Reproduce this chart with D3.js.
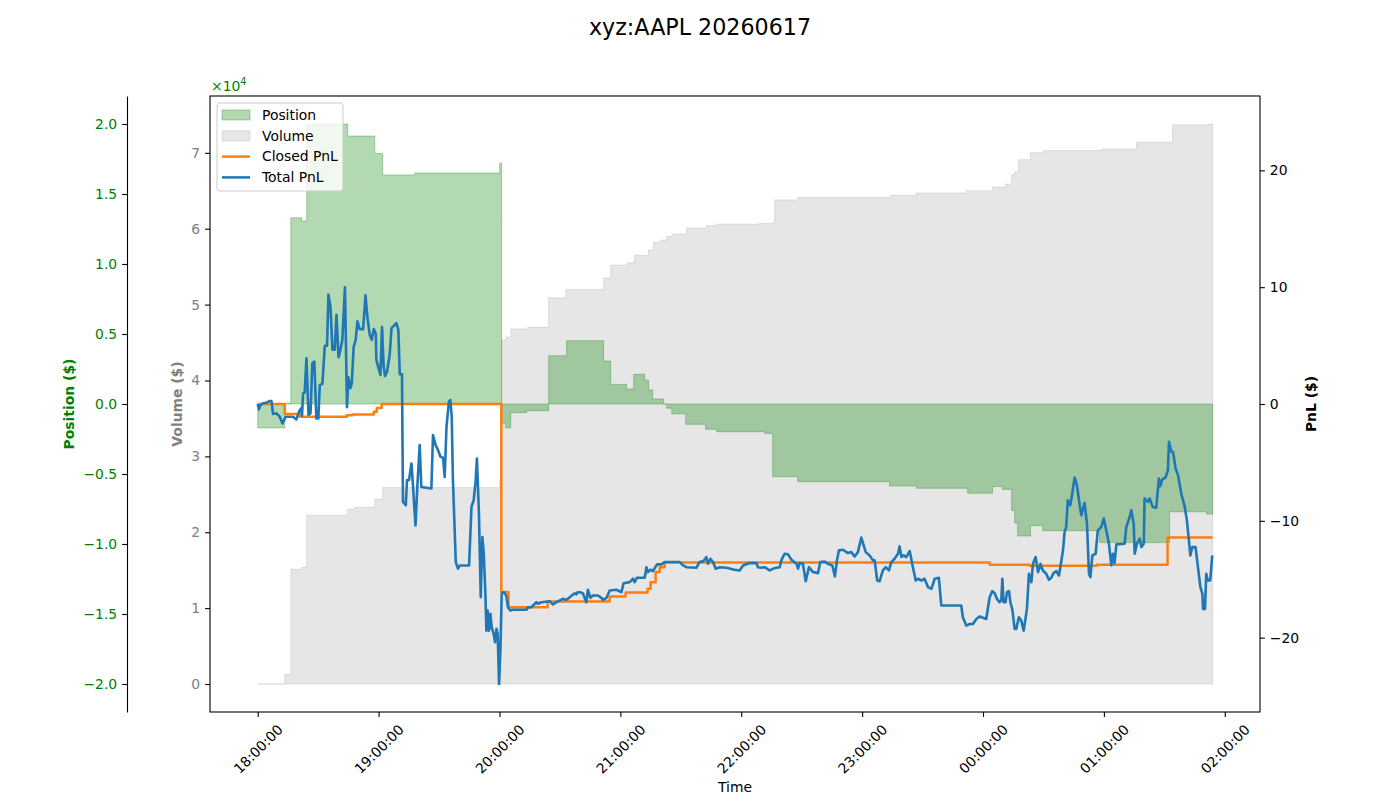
<!DOCTYPE html>
<html>
<head>
<meta charset="utf-8">
<script src="https://cdn.jsdelivr.net/npm/d3@7"></script>
<style>
  body { margin: 0; background: #fff; }
  svg { font-family: "DejaVu Sans", sans-serif; }
</style>
</head>
<body>
<svg id="chart" width="1400" height="800"></svg>
<script>
// session start, all times below are minutes after it
const sessionStart = new Date(2026, 5, 17, 18, 0, 0);
const chartTitle = "xyz:AAPL 20260617";
const legendLabels = ["Position", "Volume", "Closed PnL", "Total PnL"];

// Volume ($), cumulative
const volume = [[0, 0], [13.4, 1280], [16.4, 15120], [21.8, 15380], [24.3, 22240], [44.7, 23030], [48.1, 23300],
  [58.1, 24350], [62.0, 25880], [120.1, 26800], [121.1, 45350], [123.1, 45740], [125.6, 46800], [134.0, 47000],
  [144.4, 50900], [152.9, 52000], [171.7, 53500], [175.2, 55200], [183.6, 55500], [187.1, 56500], [194.0, 57200],
  [196.5, 58200], [200.0, 58500], [203.0, 59000], [206.0, 59300], [212.9, 60100], [222.8, 60400], [227.8, 60600],
  [249.1, 60700], [255.6, 60800], [256.6, 63800], [268.0, 64100], [314.1, 64400], [327.0, 64700], [351.9, 65000],
  [364.8, 65500], [371.2, 65900], [374.2, 67100], [375.7, 67500], [377.7, 69100], [383.6, 70000], [390.1, 70300],
  [418.9, 70500], [436.2, 71400], [454.1, 73700], [472.0, 73800], [474.0, 73800]];

// Position ($)
const position = [[0, -1710], [13.4, 50], [16.4, 13300], [21.8, 13070], [24.3, 20000], [44.7, 19140], [58.1, 17900],
  [62.0, 16360], [77.9, 16500], [120.1, 17200], [121.1, -1360], [123.1, -1700], [125.6, -620], [133.5, -480],
  [144.4, 3450], [153.3, 4520], [171.7, 3070], [175.2, 1400], [183.1, 1070], [186.6, 2120], [192.1, 1700],
  [194.0, 1000], [196.0, 360], [201.5, 0], [203.0, -300], [205.5, -700], [212.4, -1450], [222.3, -1810],
  [227.8, -1980], [251.6, -2100], [255.6, -5190], [268.0, -5550], [313.6, -5860], [327.0, -6020], [352.4, -6380],
  [364.8, -5900], [369.7, -6100], [374.2, -7600], [375.7, -8500], [377.2, -9430], [383.6, -8690], [389.6, -9050],
  [417.9, -9900], [452.6, -7700], [471.0, -7860], [474.0, -7860]];

// Closed PnL ($)
const closedPnl = [[0, 0], [13.4, -0.86], [20.8, -1.09], [44.2, -0.97], [47.1, -0.89], [57.6, -0.66], [59.1, -0.35],
  [61.5, 0], [120.9, -16.1], [124.5, -17.4], [143.9, -16.9], [174.7, -16.48], [182.6, -16.14], [193.5, -15.82],
  [195.0, -15.25], [197.5, -14.39], [199.5, -13.97], [202.0, -13.57], [363.3, -13.76], [383.1, -13.85],
  [416.4, -13.76], [451.6, -11.42], [474.0, -11.42]];

// Total PnL ($)
const totalPnl = [[0, 0], [0.6, -0.46], [1.3, -0.09], [2.6, 0.06], [4.3, 0.11], [6.0, 0.26], [6.8, 0.26], [7.6, -0.86],
  [9.3, -0.8], [10.9, -1.09], [12.3, -1.66], [13.9, -1.09], [17.5, -1.09], [19.2, -1.32], [20.5, -0.66], [21.5, -0.37],
  [22.0, -1.0], [22.5, 0.91], [23.3, 0.97], [24.2, 3.92], [25.2, -0.94], [26.2, -0.8], [27.1, 3.49], [28.1, 3.63],
  [29.1, -1.23], [30.1, -1.23], [30.8, 1.63], [32.1, 1.72], [33.3, 4.98], [34.4, 5.0], [35.1, 9.36], [36.1, 8.35],
  [37.1, 4.64], [38.2, 4.64], [39.1, 7.64], [40.1, 4.0], [40.7, 4.35], [42.0, 5.49], [43.3, 10.0], [44.3, -0.28],
  [45.0, 2.29], [46.0, 1.35], [46.7, 1.78], [47.6, 4.87], [48.6, 5.49], [49.5, 7.07], [50.6, 6.41], [52.3, 6.41],
  [53.5, 9.3], [54.4, 7.5], [55.6, 5.92], [56.6, 5.49], [57.6, 6.41], [58.6, 6.01], [58.9, 3.78], [60.2, 2.92],
  [60.9, 2.49], [61.7, 6.58], [62.5, 3.2], [63.2, 2.4], [64.2, 2.77], [65.5, 4.21], [66.4, 6.5], [68.0, 6.78],
  [68.8, 6.93], [69.8, 6.35], [70.5, 2.55], [71.6, 2.55],
  [72.1, -8.38], [73.5, -8.67], [74.1, -6.52], [75.1, -6.52], [76.3, -5.09], [77.1, -7.1], [78.3, -10.39],
  [79.3, -6.81], [80.4, -3.52], [81.2, -7.1], [86.2, -7.24], [87.0, -2.66], [88.3, -3.52], [89.5, -3.95],
  [90.7, -4.52], [92.0, -4.6], [92.8, -6.24], [93.7, -1.95], [94.9, 0.2], [95.6, 0.34], [96.3, -1.09], [96.9, -6.52],
  [98.3, -13.53], [99.4, -14.1], [100.3, -13.82], [104.9, -13.82], [106.1, -8.81], [107.2, -8.24], [108.2, -6.52],
  [108.8, -4.66], [109.8, -9.38], [110.7, -16.54], [111.5, -11.39], [112.2, -12.82], [113.0, -16.25], [113.5, -19.4],
  [114.1, -17.68], [114.8, -19.4], [115.5, -17.97], [116.1, -19.1], [117.1, -19.68], [117.8, -20.4], [118.5, -19.25],
  [119.1, -19.68], [119.8, -23.97], [120.5, -20.83], [121.1, -16.25], [122.1, -16.11], [123.4, -16.39],
  [124.2, -17.4], [125.4, -17.68], [126.7, -17.62], [133.4, -17.62], [134.2, -17.4], [135.8, -17.4], [138.3, -16.97],
  [139.1, -17.1], [140.8, -16.97], [144.9, -16.88], [146.6, -17.17], [148.2, -16.97], [151.5, -16.68],
  [153.2, -16.77], [157.3, -16.2], [158.2, -16.3], [158.8, -16.11],
  [159.8, -16.11], [161.4, -16.2], [163.1, -16.97], [163.9, -15.9], [165.1, -16.6], [166.4, -16.39], [168.9, -16.39],
  [170.6, -16.6], [171.4, -16.77], [173.1, -16.6], [174.7, -15.97], [178.0, -15.9], [180.5, -16.11], [181.6, -15.34],
  [184.6, -15.25], [186.3, -14.96], [187.1, -15.25], [188.2, -14.88], [192.1, -14.88], [192.9, -13.97],
  [193.7, -14.39], [194.9, -14.19], [196.2, -14.3], [198.2, -13.73], [200.4, -13.73], [202.0, -13.53],
  [209.5, -13.53], [211.1, -13.82], [212.8, -13.97], [217.7, -14.02], [219.3, -13.53], [221.3, -13.45],
  [222.7, -13.1], [223.5, -13.68], [224.7, -13.25], [226.0, -13.53], [227.3, -14.1], [229.3, -13.97],
  [232.6, -14.02], [236.7, -14.19], [239.2, -14.25], [240.9, -13.82], [244.2, -13.62], [247.5, -13.62],
  [248.3, -13.97], [250.0, -14.02], [251.6, -13.97], [254.1, -14.25], [255.7, -14.11], [257.4, -14.02],
  [259.1, -13.97], [259.9, -13.39], [261.5, -12.82], [263.2, -12.87], [264.9, -13.33], [267.4, -13.68],
  [268.2, -14.1], [269.0, -13.62], [270.6, -13.68], [272.0, -15.17], [273.6, -13.97], [275.6, -14.39],
  [278.1, -14.48], [279.2, -13.53], [281.4, -13.48], [283.0, -13.68], [285.2, -13.82], [286.5, -14.76],
  [287.5, -13.39], [288.5, -12.53], [290.5, -12.48], [293.0, -12.76], [294.6, -12.68], [296.3, -13.05],
  [297.9, -12.68], [299.6, -11.44], [301.8, -12.68], [303.7, -12.96], [305.4, -13.39], [306.2, -13.39],
  [307.5, -15.11], [308.7, -15.17], [310.3, -14.25], [311.7, -13.97], [313.3, -14.25], [314.5, -13.53],
  [316.1, -13.25], [317.8, -12.82], [318.6, -12.19], [319.5, -13.1], [320.6, -12.96], [321.9, -13.1],
  [323.6, -12.59], [325.2, -13.97], [326.6, -15.11], [327.7, -14.96], [329.4, -15.11], [331.0, -14.96],
  [332.7, -15.68], [334.4, -15.82], [336.0, -14.96], [338.1, -14.88], [339.3, -17.25], [349.2, -17.25],
  [350.0, -18.26], [351.7, -18.97], [353.4, -18.83], [355.0, -18.83], [356.7, -18.4], [358.3, -18.2],
  [360.0, -18.3], [361.6, -18.4], [363.3, -16.54],
  [364.6, -16.02], [365.8, -16.2], [366.9, -16.68], [368.2, -16.97], [369.1, -16.8], [369.6, -14.96],
  [370.2, -16.97], [371.2, -16.97], [371.9, -16.11], [372.9, -16.02], [373.6, -16.97], [374.6, -17.62],
  [375.7, -19.25], [376.5, -19.25], [377.8, -18.26], [379.0, -18.54], [380.2, -19.4], [381.8, -17.54],
  [382.8, -14.53], [384.0, -15.25], [384.8, -13.68], [386.1, -13.1], [387.3, -14.39], [388.5, -13.68],
  [389.7, -14.25], [391.4, -14.53], [392.7, -15.05], [393.9, -14.88], [395.0, -14.48], [396.4, -14.31],
  [397.7, -14.68], [398.8, -13.53], [399.7, -12.53], [400.5, -10.96], [401.3, -10.53], [402.1, -8.24],
  [403.3, -8.67], [404.3, -7.67], [405.5, -6.29], [406.6, -6.95], [408.0, -8.67], [408.8, -9.53], [410.4, -8.47],
  [411.6, -10.24], [412.6, -14.53], [413.3, -14.82], [414.3, -12.96], [415.9, -12.82], [417.0, -10.82],
  [418.7, -10.53], [419.9, -9.81], [421.2, -10.82], [422.5, -11.96], [423.7, -13.82], [424.5, -12.82],
  [425.3, -13.62], [426.2, -12.02], [430.3, -11.96], [431.1, -10.53], [432.8, -9.67], [433.6, -9.1],
  [434.8, -10.24], [435.3, -12.82], [436.4, -11.96], [437.8, -11.53], [438.6, -12.25], [439.8, -11.96],
  [440.2, -8.09], [441.9, -8.38], [442.7, -8.09], [444.3, -8.81], [446.0, -8.87], [447.3, -6.38], [448.0, -7.04],
  [449.0, -6.46], [450.6, -6.29], [451.8, -5.67], [452.3, -3.23], [453.5, -4.09], [454.3, -4.09], [455.6, -5.52],
  [456.8, -6.09], [458.4, -7.67], [460.1, -8.76], [461.2, -9.96], [462.2, -11.67], [462.9, -12.96],
  [463.9, -12.25], [465.5, -12.25], [466.7, -13.97], [467.9, -15.68], [468.9, -16.25], [469.2, -17.54],
  [470.2, -17.54], [470.8, -14.53], [471.6, -15.11], [472.8, -15.11], [473.8, -12.96]];

// axis ticks
const volumeTicks = [0, 1, 2, 3, 4, 5, 6, 7].map(d => d * 1e4);
const positionTicks = [-2, -1.5, -1, -0.5, 0, 0.5, 1, 1.5, 2].map(d => d * 1e4);
const pnlTicks = [-20, -10, 0, 10, 20];

const colors = { position: "green", volume: "gray", closed: "#ff7f0e", total: "#1f77b4" };

// plot box
const plot = { left: 210, right: 1260, top: 96, bottom: 712 };
const tickFont = "13.9px";

const svg = d3.select("#chart");
const at = m => new Date(sessionStart.getTime() + m * 60000);

// scales (matplotlib-like 5% margins / symmetric limits)
const tMax = d3.max(totalPnl, d => d[0]);
const xPad = tMax * 0.05;
const x = d3.scaleTime().domain([at(-xPad), at(tMax + xPad)]).range([plot.left, plot.right]);
const volMax = d3.max(volume, d => d[1]);
const yVol = d3.scaleLinear().domain([-volMax * 0.05, volMax * 1.05]).range([plot.bottom, plot.top]);
const posLim = d3.max(position, d => Math.abs(d[1])) * 1.1;
const yPos = d3.scaleLinear().domain([-posLim, posLim]).range([plot.bottom, plot.top]);
const pnlLim = d3.max(totalPnl.concat(closedPnl), d => Math.abs(d[1])) * 1.1;
const yPnl = d3.scaleLinear().domain([-pnlLim, pnlLim]).range([plot.bottom, plot.top]);

// volume area
const volArea = d3.area().curve(d3.curveStepAfter)
  .x(d => x(at(d[0]))).y0(yVol(0)).y1(d => yVol(d[1]));
svg.append("path").datum(volume).attr("d", volArea)
  .attr("fill", colors.volume).attr("fill-opacity", 0.2)
  .attr("stroke", colors.volume).attr("stroke-opacity", 0.2).attr("stroke-width", 1);

// position area
const posArea = d3.area().curve(d3.curveStepAfter)
  .x(d => x(at(d[0]))).y0(yPos(0)).y1(d => yPos(d[1]));
svg.append("path").datum(position).attr("d", posArea)
  .attr("fill", colors.position).attr("fill-opacity", 0.3)
  .attr("stroke", colors.position).attr("stroke-opacity", 0.3).attr("stroke-width", 1);

// pnl lines
const closedLine = d3.line().curve(d3.curveStepAfter).x(d => x(at(d[0]))).y(d => yPnl(d[1]));
svg.append("path").datum(closedPnl).attr("d", closedLine)
  .attr("fill", "none").attr("stroke", colors.closed).attr("stroke-width", 2.5).attr("stroke-linejoin", "round");
const totalLine = d3.line().x(d => x(at(d[0]))).y(d => yPnl(d[1]));
svg.append("path").datum(totalPnl).attr("d", totalLine)
  .attr("fill", "none").attr("stroke", colors.total).attr("stroke-width", 2.6).attr("stroke-linejoin", "round");

// frame
svg.append("rect").attr("x", plot.left).attr("y", plot.top)
  .attr("width", plot.right - plot.left).attr("height", plot.bottom - plot.top)
  .attr("fill", "none").attr("stroke", "#000").attr("stroke-width", 1.1);

function styleAxis(g, color, keepDomain) {
  g.selectAll("text").attr("fill", color).style("font-size", tickFont).style("font-family", "DejaVu Sans");
  g.selectAll(".tick line").attr("stroke", "#000").attr("stroke-width", 1.1);
  if (keepDomain) g.select(".domain").attr("stroke", "#000").attr("stroke-width", 1.1);
  else g.select(".domain").remove();
}

// volume axis (left)
const volAxis = svg.append("g").attr("transform", `translate(${plot.left},0)`)
  .call(d3.axisLeft(yVol).tickValues(volumeTicks).tickFormat(d => d / 1e4).tickSize(4.9).tickPadding(4.9));
styleAxis(volAxis, "gray", false);

// position axis (offset spine)
const posAxis = svg.append("g").attr("transform", "translate(127,0)")
  .call(d3.axisLeft(yPos).tickValues(positionTicks).tickFormat(d => d3.format(".1f")(d / 1e4))
    .tickSize(4.9).tickSizeOuter(0).tickPadding(4.9));
styleAxis(posAxis, "green", true);

// pnl axis (right)
const pnlAxis = svg.append("g").attr("transform", `translate(${plot.right},0)`)
  .call(d3.axisRight(yPnl).tickValues(pnlTicks).tickSize(4.9).tickPadding(4.9));
styleAxis(pnlAxis, "#000", false);

// time axis
const xAxis = svg.append("g").attr("transform", `translate(0,${plot.bottom})`)
  .call(d3.axisBottom(x).ticks(d3.timeHour.every(1)).tickFormat(d3.timeFormat("%H:%M:%S")).tickSize(4.9));
styleAxis(xAxis, "#000", false);
xAxis.selectAll("text").attr("y", null).attr("dy", null)
  .attr("text-anchor", "middle").attr("dominant-baseline", "central")
  .attr("transform", "translate(0,37) rotate(-45)");

// offset text x10^4
const offset = svg.append("text").attr("x", plot.left + 1).attr("y", 91)
  .attr("fill", "green").style("font-size", tickFont).text("×10");
offset.append("tspan").attr("dy", -6).style("font-size", "9.7px").text("4");

// axis labels
svg.append("text").attr("x", (plot.left + plot.right) / 2).attr("y", 792)
  .attr("text-anchor", "middle").style("font-size", tickFont).text("Time");
const sideLabels = [
  { x: 74, text: "Position ($)", color: "green" },
  { x: 182, text: "Volume ($)", color: "gray" },
  { x: 1316, text: "PnL ($)", color: "#000" }
];
sideLabels.forEach(l => {
  svg.append("text").attr("transform", `translate(${l.x},${yPnl(0)}) rotate(-90)`)
    .attr("text-anchor", "middle").attr("fill", l.color)
    .style("font-size", tickFont).style("font-weight", "bold").text(l.text);
});

// title
svg.append("text").attr("x", 700).attr("y", 35).attr("text-anchor", "middle")
  .style("font-size", "22.2px").text(chartTitle);

// legend
const legend = svg.append("g").attr("transform", "translate(217,103)");
legend.append("rect").attr("width", 126).attr("height", 88).attr("rx", 3)
  .attr("fill", "#fff").attr("fill-opacity", 0.8).attr("stroke", "#ccc").attr("stroke-width", 1);
legendLabels.forEach((label, i) => {
  const cy = 12 + i * 20.8;
  const row = legend.append("g");
  if (i === 0) {
    row.append("rect").attr("x", 5).attr("y", cy - 5).attr("width", 28).attr("height", 10)
      .attr("fill", colors.position).attr("fill-opacity", 0.3)
      .attr("stroke", colors.position).attr("stroke-opacity", 0.3);
  } else if (i === 1) {
    row.append("rect").attr("x", 5).attr("y", cy - 5).attr("width", 28).attr("height", 10)
      .attr("fill", colors.volume).attr("fill-opacity", 0.2)
      .attr("stroke", colors.volume).attr("stroke-opacity", 0.2);
  } else {
    row.append("line").attr("x1", 5).attr("x2", 33).attr("y1", cy).attr("y2", cy)
      .attr("stroke", i === 2 ? colors.closed : colors.total).attr("stroke-width", 2.5);
  }
  row.append("text").attr("x", 45).attr("y", cy).attr("dy", "0.35em")
    .style("font-size", tickFont).text(label);
});
</script>
</body>
</html>
